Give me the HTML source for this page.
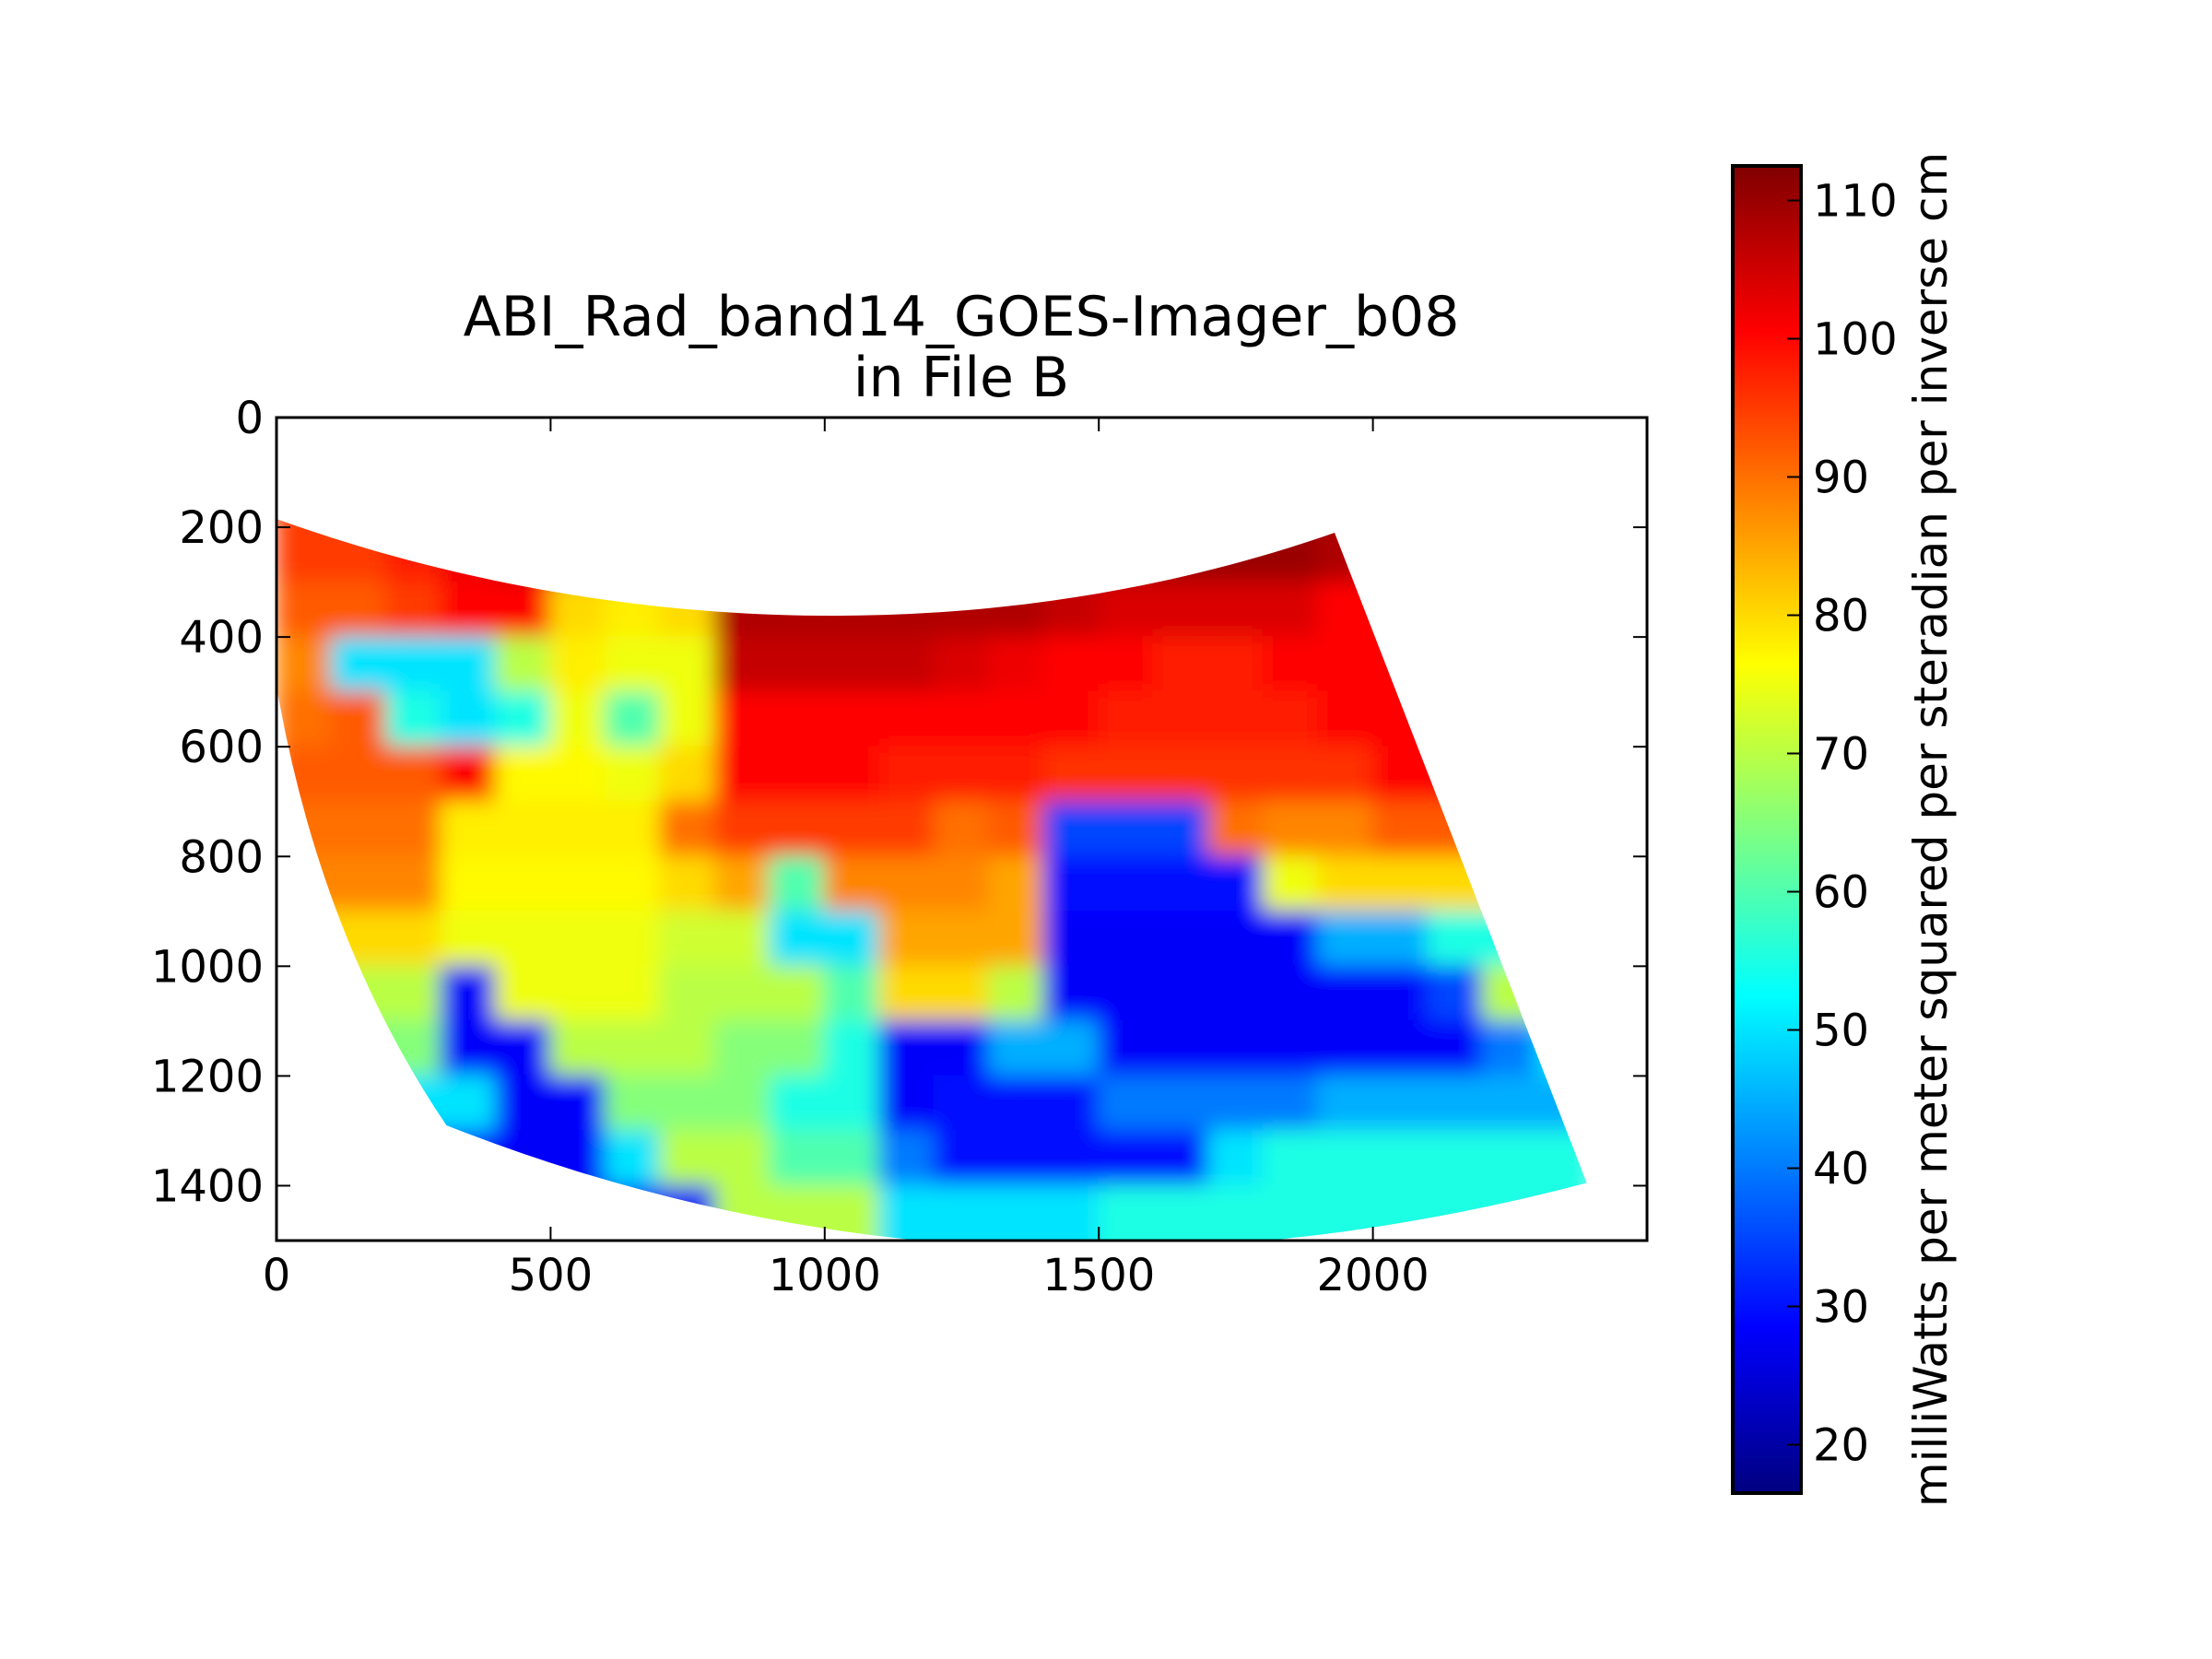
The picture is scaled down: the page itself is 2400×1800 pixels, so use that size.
<!DOCTYPE html>
<html><head><meta charset="utf-8"><style>
html,body{margin:0;padding:0;background:#fff;}
svg{display:block;font-family:"DejaVu Sans","Liberation Sans",sans-serif;}
</style></head><body>
<svg id="fig" width="2400" height="1800" viewBox="0 0 2400 1800" xmlns="http://www.w3.org/2000/svg">
<defs>
<filter id="blur" x="-10%" y="-10%" width="120%" height="120%"><feGaussianBlur stdDeviation="12"/></filter>
<clipPath id="axclip"><rect x="300" y="453" width="1487" height="893"/></clipPath>
<linearGradient id="cbgrad" x1="0" y1="1" x2="0" y2="0"></linearGradient>
</defs>
<text x="1043" y="364" font-size="60" text-anchor="middle">ABI_Rad_band14_GOES-Imager_b08</text>
<text x="1043" y="430" font-size="60" text-anchor="middle">in File B</text>
<g id="plot" clip-path="url(#axclip)">
<clipPath id="swathclip"><path id="swathpath"/></clipPath>
<g clip-path="url(#swathclip)"><g id="cells" filter="url(#blur)"></g></g>
</g>
<rect x="300" y="453" width="1487" height="893" fill="none" stroke="#000" stroke-width="3"/>
<g id="ticks"></g>
<rect x="1880" y="180" width="74" height="1440" fill="url(#cbgrad)"/>
<rect x="1880" y="180" width="74" height="1440" fill="none" stroke="#000" stroke-width="4"/>
<g id="cbticks"></g>
<text transform="translate(2112,900) rotate(-90)" font-size="50" text-anchor="middle">milliWatts per meter squared per steradian per inverse cm</text>
</svg>
<script>
const xTicks=[0,500,1000,1500,2000];
const yTicks=[0,200,400,600,800,1000,1200,1400];
const cbTicks=[20,30,40,50,60,70,80,90,100,110];
const cellRowsY=[200,300,400,500,600,700,800,900,1000,1100,1200,1300,1400];
const r0=[95,95,98,102,106,106,106,106,106,108,108,108,108,108,110,110,110,110,110,108,108,108,108,108];
const r1=[92,92,95,100,100,80,78,80,108,108,108,108,108,108,106,104,104,104,104,100,100,100,100,100];
const r2=[88,50,50,50,70,78,75,75,106,106,106,106,104,102,100,100,98,98,100,100,100,100,100,100];
const r3=[90,92,55,50,55,75,60,75,100,100,100,100,100,100,100,98,98,98,98,100,100,100,100,100];
const r4=[92,92,92,100,77,77,75,80,100,100,100,98,98,98,96,96,96,96,96,96,100,100,100,100];
const r5=[90,90,90,78,78,78,78,90,95,95,95,95,90,92,35,35,35,90,88,88,92,92,92,92];
const r6=[88,88,88,77,77,77,77,80,85,60,88,88,88,85,30,30,30,30,75,80,80,80,80,80];
const r7=[80,80,80,75,75,75,75,72,72,50,50,85,85,85,28,28,28,28,28,45,45,55,55,55];
const r8=[70,70,70,28,75,75,75,70,70,70,60,80,80,70,28,28,28,28,28,28,28,35,70,70];
const r9=[65,65,65,28,28,70,70,70,65,65,55,28,28,45,45,28,28,28,28,28,28,28,40,50];
const r10=[50,50,50,50,28,28,65,65,65,55,55,28,30,30,30,40,40,40,40,45,45,45,45,45];
const r11=[30,30,30,30,28,28,50,70,70,60,60,40,30,30,30,30,30,50,55,55,55,55,55,55];
const r12=[30,30,30,30,30,28,28,28,70,70,70,50,50,50,50,55,55,55,55,55,55,55,55,55];
const grid=[r0,r1,r2,r3,r4,r5,r6,r7,r8,r9,r10,r11,r12];
const vmin=16.5, vmax=112.5, xmax=2500, ymax=1500;
const X0=300,X1=1787,Y0=453,Y1=1346,CB0=1620,CB1=180;
const xs=v=>X0+v*(X1-X0)/xmax;
const ys=v=>Y0+v*(Y1-Y0)/ymax;
const cs=v=>CB0-(v-vmin)*(CB0-CB1)/(vmax-vmin);
function jet(t){
  t=Math.max(0,Math.min(1,t));
  const c=x=>Math.max(0,Math.min(1,x));
  const r=c(1.5-Math.abs(4*t-3)),g=c(1.5-Math.abs(4*t-2)),b=c(1.5-Math.abs(4*t-1));
  return `rgb(${Math.round(r*255)},${Math.round(g*255)},${Math.round(b*255)})`;
}
const col=v=>jet((v-vmin)/(vmax-vmin));
const NS="http://www.w3.org/2000/svg";
function mk(tag,attrs,parent){const e=document.createElementNS(NS,tag);for(const k in attrs)e.setAttribute(k,attrs[k]);parent.appendChild(e);return e;}
const P=(x,y)=>xs(x).toFixed(1)+","+ys(y).toFixed(1);
document.getElementById('swathpath').setAttribute('d',
 `M${P(0,185)} C${P(600,400)} ${P(1300,430)} ${P(1930,210)} L${P(2390,1395)} Q${P(1300,1680)} ${P(310,1290)} Q${P(80,950)} ${P(0,490)} Z`);
const cells=document.getElementById('cells');
grid.forEach((row,i)=>{
  row.forEach((v,j)=>{
    const y=cellRowsY[i]-(i===0?100:0);
    const h=100+(i===0?100:0)+(i===grid.length-1?150:0);
    const r=mk('rect',{x:xs(j*100)-1,y:ys(y)-1,width:xs(100)-X0+2,height:ys(h)-Y0+2,fill:col(v)},cells);
    
    
  });
});
const tg=document.getElementById('ticks');
xTicks.forEach(v=>{
  const x=xs(v);
  mk('line',{x1:x,y1:Y1,x2:x,y2:Y1-15,stroke:'#000','stroke-width':2},tg);
  mk('line',{x1:x,y1:Y0,x2:x,y2:Y0+15,stroke:'#000','stroke-width':2},tg);
  const t=mk('text',{x:x,y:Y1+54,'font-size':48,'text-anchor':'middle'},tg);
  t.textContent=v;
  
  
});
yTicks.forEach(v=>{
  const y=ys(v);
  mk('line',{x1:X0,y1:y,x2:X0+15,y2:y,stroke:'#000','stroke-width':2},tg);
  mk('line',{x1:X1,y1:y,x2:X1-15,y2:y,stroke:'#000','stroke-width':2},tg);
  const t=mk('text',{x:X0-14,y:y+17,'font-size':48,'text-anchor':'end'},tg);
  t.textContent=v;
  
  
});
const gr=document.getElementById('cbgrad');
for(let k=0;k<=40;k++){mk('stop',{offset:(k/40),'stop-color':jet(k/40)},gr);}
const cg=document.getElementById('cbticks');
cbTicks.forEach(v=>{
  const y=cs(v);
  mk('line',{x1:1954,y1:y,x2:1939,y2:y,stroke:'#000','stroke-width':2},cg);
  const t=mk('text',{x:1967,y:y+17,'font-size':48},cg);
  t.textContent=v;
  
  
});
</script>
</body></html>
